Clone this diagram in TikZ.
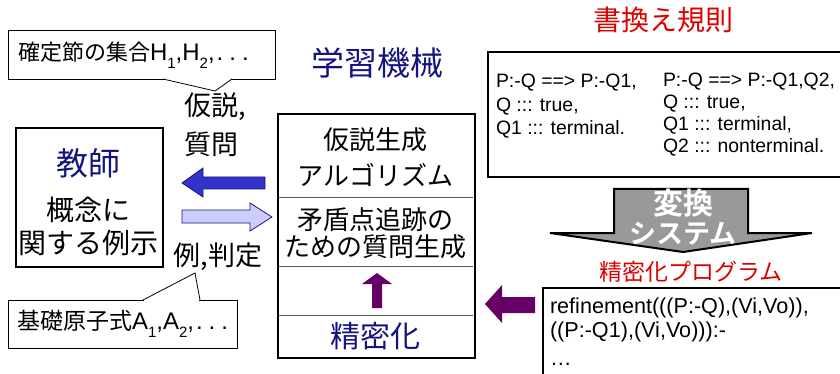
\documentclass[tikz,border=0pt]{standalone}
\usepackage{fontspec}
\setmainfont{Liberation Sans}
\newfontfamily\jp[BoldFont={Noto Sans CJK JP Bold}]{Noto Sans CJK JP}
\newcommand\fs[1]{\fontsize{#1}{#1}\selectfont}
\newcommand\lowsub[1]{\raisebox{-0.32em}{\fontsize{15}{15}\selectfont #1}}
\newcommand\wdots{\hspace{2pt}.\hspace{6pt}.\hspace{6pt}.}
\definecolor{navy}{HTML}{141480}
\definecolor{redtxt}{HTML}{DD0000}
\definecolor{bluearr}{HTML}{3333CC}
\definecolor{lightarr}{HTML}{CCCCFF}
\definecolor{purp}{HTML}{660066}
\definecolor{grayarr}{HTML}{999999}
\tikzset{
  txt/.style={inner sep=0pt, outer sep=0pt},
  jtxt/.style={txt, font=\jp\fs{#1}},
  code/.style={txt, anchor=base west, font=\fs{#1}},
  callout/.style={draw=black, line width=0.8pt, fill=white, inner sep=0pt},
  thickbox/.style={draw=black, line width=2pt, inner sep=0pt},
  divider/.style={draw=gray!70!black, line width=0.8pt},
}
\begin{document}
\begin{tikzpicture}[x=1pt,y=-1pt]
\useasboundingbox (0,0) rectangle (840,374);

% ---- top callout
\node[callout, anchor=north west, minimum width=267pt, minimum height=49pt] (hyp) at (8,30) {};
\node[txt, anchor=west, font=\fs{24}] (hyptxt) at (18,55) {{\jp\fs{22}確定節の集合}H\lowsub{1},H\lowsub{2},\wdots};
\coordinate (hyptip) at (215,91);
\draw[white, line width=1.4pt] (164,79) -- (231,79);
\draw[line width=0.8pt] (163,79) -- (hyptip) -- (232,79);

% ---- bottom callout
\node[callout, anchor=north west, minimum width=229pt, minimum height=48pt] (atom) at (8,300) {};
\node[txt, anchor=west, font=\fs{24}] (atomtxt) at (17,324) {{\jp\fs{23}基礎原子式}A\lowsub{1},A\lowsub{2},\wdots};
\coordinate (atomtip) at (195,273);
\draw[white, line width=1.4pt] (144,300) -- (199,300);
\draw[line width=0.8pt] (143,300) -- (atomtip) -- (200,300);

% ---- teacher box
\node[thickbox, anchor=north west, minimum width=147pt, minimum height=139pt] (teacher) at (15,127) {};
\node[jtxt=32, text=navy] (t1) at (88,163) {教師};
\node[jtxt=28] (t2) at (88,210) {概念に};
\node[jtxt=28] (t3) at (88,243) {関する例示};

% ---- labels between
\node[jtxt=27, anchor=west] (q1) at (184,107) {仮説,};
\node[jtxt=27, anchor=west] (q2) at (184,144) {質問};
\node[jtxt=27] (ex) at (218,257) {例,判定};

% ---- block arrows left
\draw[fill=bluearr, draw=navy, line width=0.8pt]
  (182,183) -- (203,168) -- (203,177) -- (265,177) -- (265,189) -- (203,189) -- (203,197) -- cycle;
\draw[fill=lightarr, draw=navy, line width=0.8pt]
  (272,217) -- (250,203) -- (250,210) -- (182,210) -- (182,223) -- (250,223) -- (250,231) -- cycle;

% ---- learning machine
\node[jtxt=33, text=navy] (lm) at (377,63) {学習機械};
\node[thickbox, anchor=north west, minimum width=197pt, minimum height=244pt] (machine) at (277,113) {};
\draw[divider] (278,197) -- (473,197);
\draw[divider] (278,266) -- (473,266);
\draw[divider] (278,315) -- (473,315);
\node[jtxt=26] (m1) at (375.5,140) {仮説生成};
\node[jtxt=26] (m2) at (375.5,175) {アルゴリズム};
\node[jtxt=26] (m3) at (375.5,220) {矛盾点追跡の};
\node[jtxt=26] (m4) at (375.5,247) {ための質問生成};
\node[jtxt=30, text=navy] (m5) at (375.5,336) {精密化};
\fill[purp] (377,273) -- (392,284) -- (382,284) -- (382,308) -- (372,308) -- (372,284) -- (362,284) -- cycle;

% ---- rules
\node[jtxt=28, text=redtxt] (rt) at (663,20) {書換え規則};
\node[thickbox, anchor=north west, minimum width=370pt, minimum height=125pt] (rules) at (487,51) {};
\node[code=19.4] (r11) at (496,88) {P:-Q ==> P:-Q1,};
\node[code=19.4] (r12) at (496,112) {Q ::: true,};
\node[code=19.4] (r13) at (496,135) {Q1 ::: terminal.};
\node[code=19.4] (r21) at (663,87) {P:-Q ==> P:-Q1,Q2,};
\node[code=19.4] (r22) at (663,109) {Q ::: true,};
\node[code=19.4] (r23) at (663,131) {Q1 ::: terminal,};
\node[code=19.4] (r24) at (663,153) {Q2 ::: nonterminal.};

% ---- transformation arrow
\draw[fill=grayarr, draw=black, line width=2pt, line join=miter]
  (614,189) -- (748,189) -- (748,233) -- (812,233) -- (683,252) -- (550,233) -- (614,233) -- cycle;
\node[txt, font=\jp\bfseries\fs{30}, text=white] (tr1) at (683,203) {変換};
\node[txt, font=\jp\bfseries\fs{27}, text=white] (tr2) at (683,234) {システム};

% ---- refinement program
\node[jtxt=23, text=redtxt] (rp) at (691,272) {精密化プログラム};
\node[draw=black, line width=1.5pt, inner sep=0pt, anchor=north west, minimum width=320pt, minimum height=110pt] (prog) at (542,287) {};
\node[code=21.6] (p1) at (550,313) {refinement(((P:-Q),(Vi,Vo)),};
\node[code=21.6] (p2) at (550,337) {((P:-Q1),(Vi,Vo))):-};
\node[code=21.6] (p3) at (550,365) {…};

\fill[purp] (485,304) -- (502,285) -- (502,297) -- (535,297) -- (535,313) -- (502,313) -- (502,323) -- cycle;
\end{tikzpicture}
\end{document}
